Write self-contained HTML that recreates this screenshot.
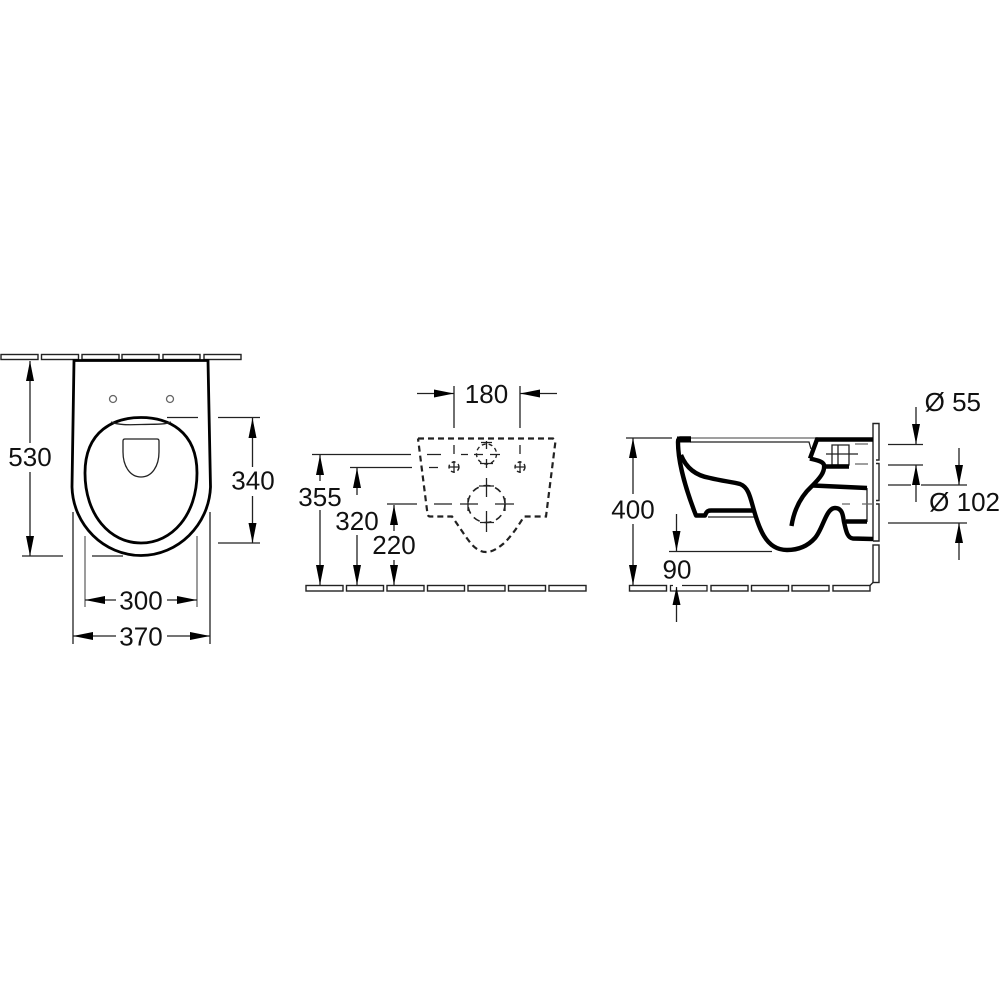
<!DOCTYPE html>
<html><head><meta charset="utf-8"><style>
html,body{margin:0;padding:0;background:#fff}
svg{display:block}
text{font-family:"Liberation Sans",sans-serif;font-size:26px;fill:#111;text-anchor:middle}
.t{fill:#fff;stroke:#222;stroke-width:1.400}
.k{fill:none;stroke:#000;stroke-width:4.400;stroke-linejoin:round;stroke-linecap:butt}
.n{fill:none;stroke:#222;stroke-width:1.300}
.g{fill:none;stroke:#666;stroke-width:1.300}
.d{fill:none;stroke:#222;stroke-width:2.200;stroke-dasharray:6 4}
.a{fill:#000;stroke:none}
</style></head><body>
<svg width="1000" height="1000" viewBox="0 0 1000 1000" xmlns="http://www.w3.org/2000/svg">
<rect width="1000" height="1000" fill="#fff"/>
<!-- tiles left -->
<rect class="t" x="1" y="354.500" width="37" height="5"/><rect class="t" x="41.500" y="354.500" width="37" height="5"/><rect class="t" x="82" y="354.500" width="37" height="5"/><rect class="t" x="122" y="354.500" width="37" height="5"/><rect class="t" x="163" y="354.500" width="37" height="5"/><rect class="t" x="204" y="354.500" width="37" height="5"/>
<!-- top view -->
<path d="M74 360.500 L208 360.500 L210.500 487 C209 525 178 555.500 141 555.500 C104 555.500 73 525 72 487 Z" fill="#fff" stroke="#000" stroke-width="2.800"/>
<path d="M141 417.500 C115 417.500 85 430 85 473 C85 515 110 543 141 543 C172 543 197 515 197 473 C197 430 167 417.500 141 417.500 Z" fill="none" stroke="#000" stroke-width="2.800"/>
<path class="n" d="M111 422 C118 425 128 425 141 424.500 C154 424 164 425 171 422"/>
<path class="n" d="M123 441 Q123 439 125 439 L157 439 Q159 439 159 441 L159 452 C159 466 152 477 141 477 C130 477 123 466 123 452 Z"/>
<circle class="g" cx="113" cy="399" r="3.500"/><circle class="g" cx="170" cy="399" r="3.500"/>
<!-- dim 530 -->
<path class="n" d="M30 361V443M30 472V556M22 556H63M92 556H123"/>
<polygon class="a" points="30,361 34,381 26,381"/><polygon class="a" points="30,556 34,536 26,536"/>
<text x="30" y="466">530</text>
<!-- dim 340 -->
<path class="n" d="M252.500 417V467M252.500 496V543M167 417.500H198M218 417.500H260M218 543H260"/>
<polygon class="a" points="252.500,418 256.500,438 248.500,438"/><polygon class="a" points="252.500,543 256.500,523 248.500,523"/>
<text x="253" y="489.500">340</text>
<!-- dim 300 -->
<path class="g" d="M85 536V607M197 536V607"/>
<path class="n" d="M85 600H116M167 600H197"/>
<polygon class="a" points="85,600 105,596 105,604"/><polygon class="a" points="197,600 177,596 177,604"/>
<text x="141" y="609.500">300</text>
<!-- dim 370 -->
<path class="n" d="M73 512V644M210 512V644M73 636H116M167 636H210"/>
<polygon class="a" points="73,636 93,632 93,640"/><polygon class="a" points="210,636 190,632 190,640"/>
<text x="141" y="645.500">370</text>

<!-- middle tiles -->
<rect class="t" x="306" y="585.500" width="37" height="5.500"/><rect class="t" x="346.500" y="585.500" width="37" height="5.500"/><rect class="t" x="387" y="585.500" width="37" height="5.500"/><rect class="t" x="427.500" y="585.500" width="37" height="5.500"/><rect class="t" x="468" y="585.500" width="37" height="5.500"/><rect class="t" x="508.500" y="585.500" width="37" height="5.500"/><rect class="t" x="549" y="585.500" width="37" height="5.500"/>
<!-- middle outline -->
<path class="d" d="M418 438.500 L553 438.500 L555.500 441 L546 516.500 L524 516.500 C517 528 510 538 503 544 C497 549 492 552 486 552 C480 552 474 548 469 541 C463 533 458 525 452 516.500 L430 516.500 Q428 516.500 427.500 514 L418 438.500"/>
<g fill="none" stroke="#222" stroke-width="1.400" stroke-dasharray="4 3">
<circle cx="486.500" cy="454" r="10"/><circle cx="454" cy="467" r="5"/><circle cx="520" cy="467" r="5"/>
</g>
<circle cx="486.500" cy="504" r="18.500" fill="none" stroke="#222" stroke-width="1.600" stroke-dasharray="7 5"/>
<path class="n" d="M486.500 441V449M486.500 459V468M474 454.500H483M490 454.500H500M481 442.500H492M480 463.500H493M449 467H459M454 461V473M515 467H525M520 461V473M486.500 478V497M486.500 511V532M479 486H494M480 522.500H494M460 504H478M495 504H514M468 498V511M505 498V511"/>
<!-- dim 180 -->
<path class="n" d="M454 386V428M520 386V428M454 445V454M520 445V454M417 393.500H454M520 393.500H557"/>
<polygon class="a" points="454,393.500 434,389.500 434,397.500"/><polygon class="a" points="520,393.500 540,389.500 540,397.500"/>
<text x="486.500" y="403">180</text>
<!-- 355 -->
<path class="n" d="M320 455V481M320 510V585M312 454.500H411M427 454.500H441M461 454.500H468"/>
<polygon class="a" points="320,455 324,475 316,475"/><polygon class="a" points="320,585 324,565 316,565"/>
<text x="320" y="506">355</text>
<!-- 320 -->
<path class="n" d="M357 468V495M357 535V585M350 467.500H412M429 467.500H438"/>
<polygon class="a" points="357,468 361,488 353,488"/><polygon class="a" points="357,585 361,565 353,565"/>
<text x="357" y="530">320</text>
<!-- 220 -->
<path class="n" d="M394 505V531M394 560V585M387 504H417M434 504H452"/>
<polygon class="a" points="394,505 398,525 390,525"/><polygon class="a" points="394,585 398,565 390,565"/>
<text x="394" y="554">220</text>

<!-- right tiles -->
<rect class="t" x="629.500" y="585.500" width="37" height="5.500"/>
<path class="n" d="M673 585.500H670.500V591H707V585.500H682"/>
<rect class="t" x="711" y="585.500" width="37" height="5.500"/><rect class="t" x="751.500" y="585.500" width="37" height="5.500"/><rect class="t" x="792" y="585.500" width="37" height="5.500"/>
<rect class="t" x="833" y="585.500" width="37" height="5.500"/>
<path class="n" d="M870 585.500L873 582.500"/>
<rect class="t" x="873" y="545" width="6" height="37.500"/>
<!-- wall -->
<path d="M873 541V423.500H879V460H876M876 463.500H879V500.500H876M876 504H879V541H873" fill="none" stroke="#222" stroke-width="1.400"/>
<!-- side profile thin -->
<path class="g" d="M690 438H818"/>
<path class="n" d="M690 442H809L811 449"/>
<path class="n" d="M708 517H755M832 445H849V465H832ZM838 445V465M826 454H858M867 488V522"/>
<path class="g" d="M855 444H868M855 464H868M842 504H850M862 504H873"/>
<!-- side profile thick -->
<path class="k" d="M691 438.500H680Q678 438.500 678 442 C678 462 686 490 696 515.500H705 C707 510 709 510.500 712 510.500H753"/>
<rect x="677" y="436.500" width="14" height="6" fill="#000"/>
<path class="k" d="M681 455 C687 470 698 476 710 478 C722 481 733 482 740 484 C748 487 750 496 753 507 C756 518 759 528 764 536 C770 546 778 550 787 550 C797 550 807 547 815 538 C823 529 826 508 835 508 C843 508 843 517 844 522 C846 530 847 538 853 538.500 L873 539"/>
<path class="k" d="M791.500 526 C794 510 800 497 812 486 C820 478 825 472 824 465 C823 461 815 460 810 458.500"/>
<path d="M810 458.500 L817 439.500 H873" fill="none" stroke="#000" stroke-width="4.400"/>
<path class="k" d="M825 466.500H849M813 485.500L867 488M846 521.500H867"/>
<!-- 400 -->
<path class="n" d="M633 438V494M633 524V585M626 438H672"/>
<polygon class="a" points="633,438 637,458 629,458"/><polygon class="a" points="633,585 637,565 629,565"/>
<text x="633" y="518.500">400</text>
<!-- 90 -->
<path class="n" d="M676.500 514V551M669 551.500H772M676.500 587V622"/>
<polygon class="a" points="676.500,551 680.500,531 672.500,531"/><polygon class="a" points="676.500,587 680.500,605 672.500,605"/>
<text x="677" y="578.500">90</text>
<!-- Ø55 -->
<path class="n" d="M916 407V444M888 444.500H923M888 465H923M916 465V502M888 485H911M921 485H967M888 523H967M959 448V485M959 523V560"/>
<polygon class="a" points="916,444 920,424 912,424"/><polygon class="a" points="916,465 920,485 912,485"/>
<polygon class="a" points="959,485 963,465 955,465"/><polygon class="a" points="959,523 963,543 955,543"/>
<text x="981" y="411" style="text-anchor:end">Ø 55</text>
<text x="1000" y="511" style="text-anchor:end">Ø 102</text>
</svg>
</body></html>
